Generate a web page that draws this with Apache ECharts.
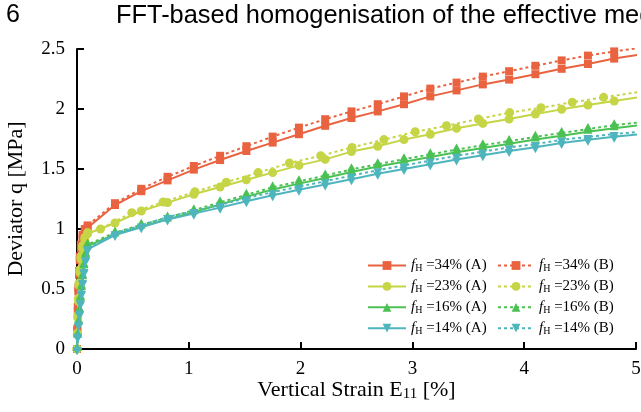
<!DOCTYPE html>
<html><head><meta charset="utf-8">
<script src="https://cdn.jsdelivr.net/npm/echarts@6/dist/echarts.min.js"></script>
<style>html,body{margin:0;padding:0;background:#fff}#c{width:641px;height:412px}</style>
</head><body><div id="c"></div>
<script>
// ---- data ----
const xTicks = [0, 1, 2, 3, 4, 5];
const yTicks = [0, 0.5, 1, 1.5, 2, 2.5];
const strainEarlyFast = [0, 0.003, 0.007, 0.012, 0.018, 0.025, 0.035, 0.05, 0.07, 0.095];
const strainEarlySlow = [0, 0.006, 0.014, 0.022, 0.031, 0.04, 0.05, 0.062, 0.077, 0.095];
const strainMain = [0.34, 0.575, 0.81, 1.045, 1.28, 1.515, 1.75, 1.985, 2.22, 2.455, 2.69, 2.925, 3.16, 3.395, 3.63, 3.865, 4.10, 4.335, 4.57, 4.805, 5.04];
const strainMain23B = [0.21, 0.49, 0.77, 1.055, 1.335, 1.62, 1.9, 2.18, 2.46, 2.745, 3.025, 3.305, 3.59, 3.87, 4.15, 4.43, 4.71, 5.05];

const q34A_early = [0, 0.15, 0.32, 0.48, 0.62, 0.74, 0.84, 0.92, 0.98, 1.01];
const q34B_early = [0, 0.17, 0.35, 0.51, 0.65, 0.77, 0.87, 0.95, 1.0, 1.03];
const q34A = [1.20, 1.315, 1.405, 1.495, 1.575, 1.65, 1.72, 1.79, 1.86, 1.925, 1.98, 2.04, 2.105, 2.155, 2.205, 2.245, 2.29, 2.335, 2.375, 2.42, 2.455];
const q34B = [1.215, 1.335, 1.435, 1.525, 1.61, 1.69, 1.77, 1.845, 1.915, 1.98, 2.04, 2.105, 2.17, 2.22, 2.27, 2.315, 2.36, 2.405, 2.445, 2.48, 2.51];

const q23A_early = [0, 0.12, 0.26, 0.40, 0.53, 0.64, 0.75, 0.84, 0.91, 0.96];
const q23B_early = [0, 0.13, 0.28, 0.42, 0.55, 0.66, 0.77, 0.86, 0.93, 0.97];
const q23A = [1.05, 1.15, 1.22, 1.29, 1.35, 1.41, 1.47, 1.53, 1.58, 1.645, 1.69, 1.745, 1.79, 1.84, 1.88, 1.917, 1.958, 1.997, 2.033, 2.067, 2.10];
const q23B = [1.0, 1.136, 1.225, 1.31, 1.39, 1.47, 1.55, 1.61, 1.68, 1.745, 1.81, 1.86, 1.917, 1.97, 2.01, 2.056, 2.097, 2.145];

const q16A_early = [0, 0.11, 0.22, 0.32, 0.42, 0.51, 0.60, 0.69, 0.78, 0.86];
const q16B_early = [0, 0.12, 0.23, 0.33, 0.43, 0.52, 0.61, 0.70, 0.79, 0.87];
const q16A = [0.955, 1.02, 1.08, 1.14, 1.205, 1.268, 1.33, 1.378, 1.425, 1.475, 1.52, 1.56, 1.60, 1.64, 1.675, 1.71, 1.745, 1.778, 1.81, 1.84, 1.865];
const q16B = [0.97, 1.035, 1.095, 1.157, 1.222, 1.285, 1.348, 1.397, 1.445, 1.497, 1.54, 1.582, 1.622, 1.662, 1.698, 1.733, 1.768, 1.80, 1.833, 1.865, 1.89];

const q14A_early = [0, 0.10, 0.20, 0.29, 0.38, 0.46, 0.55, 0.64, 0.74, 0.83];
const q14B_early = [0, 0.11, 0.21, 0.30, 0.39, 0.47, 0.56, 0.65, 0.75, 0.84];
const q14A = [0.95, 1.015, 1.08, 1.128, 1.178, 1.232, 1.282, 1.327, 1.37, 1.415, 1.46, 1.50, 1.54, 1.58, 1.615, 1.65, 1.682, 1.716, 1.743, 1.768, 1.79];
const q14B = [0.965, 1.03, 1.10, 1.15, 1.20, 1.257, 1.308, 1.353, 1.398, 1.445, 1.49, 1.53, 1.57, 1.61, 1.645, 1.68, 1.708, 1.744, 1.767, 1.792, 1.81];

const namesA = ['34% (A)', '23% (A)', '16% (A)', '14% (A)'];
const namesB = ['34% (B)', '23% (B)', '16% (B)', '14% (B)'];

// ---- chart ----
const SERIF = '"Liberation Serif", "Times New Roman", serif';
const SANS = '"Liberation Sans", Arial, sans-serif';
const C34 = '#EA6340', C23 = '#C5D545', C16 = '#4CC153', C14 = '#4EB5BD';
function zip(xs, ys) { return xs.map((x, i) => [x, ys[i]]); }

function mk(name, color, dotted, symbol, size, rotate, offset, xs, ys, z) {
  return {
    type: 'line', name: name, data: zip(xs, ys),
    symbol: symbol, symbolSize: size, symbolRotate: rotate, symbolOffset: offset,
    showSymbol: true, showAllSymbol: true, clip: true, z: z,
    lineStyle: { color: color, width: 2, type: dotted ? [3, 3] : 'solid' },
    itemStyle: { color: color },
    emphasis: { disabled: true }, animation: false
  };
}

const series = [
  mk(namesA[0], C34, false, 'rect', 8, 0, [0, 0], strainEarlyFast.concat(strainMain), q34A_early.concat(q34A), 2),
  mk(namesB[0], C34, true, 'rect', 8, 0, [0, 0], strainEarlyFast.concat(strainMain), q34B_early.concat(q34B), 2),
  mk(namesA[1], C23, false, 'circle', 9, 0, [0, 0], strainEarlyFast.concat(strainMain), q23A_early.concat(q23A), 3),
  mk(namesB[1], C23, true, 'circle', 9, 0, [0, 0], strainEarlyFast.concat(strainMain23B), q23B_early.concat(q23B), 3),
  mk(namesA[2], C16, false, 'triangle', [9, 8], 0, [0, -2], strainEarlySlow.concat(strainMain), q16A_early.concat(q16A), 4),
  mk(namesB[2], C16, true, 'triangle', [9, 8], 0, [0, -2], strainEarlySlow.concat(strainMain), q16B_early.concat(q16B), 4),
  mk(namesA[3], C14, false, 'triangle', [9, 8], 180, [0, 2], strainEarlySlow.concat(strainMain), q14A_early.concat(q14A), 5),
  mk(namesB[3], C14, true, 'triangle', [9, 8], 180, [0, 2], strainEarlySlow.concat(strainMain), q14B_early.concat(q14B), 5)
];

const legendText = {
  color: '#000', fontFamily: SERIF, fontSize: 15,
  rich: {
    f: { fontStyle: 'italic', fontFamily: SERIF, fontSize: 15, lineHeight: 16, color: '#000' },
    h: { fontFamily: SERIF, fontSize: 10, lineHeight: 10, verticalAlign: 'bottom', color: '#000' },
    t: { fontFamily: SERIF, fontSize: 15, lineHeight: 16, color: '#000' }
  }
};
const legendFmt = name => '{f|f}{h|H}{t| =' + name + '}';

const axisCommon = {
  axisLine: { show: true, onZero: false, lineStyle: { color: '#000', width: 2 } },
  axisTick: { show: true, inside: true, length: 7, lineStyle: { color: '#000', width: 2 } },
  splitLine: { show: false },
  nameLocation: 'middle', nameMoveOverlap: false
};

const option = {
  backgroundColor: '#fff',
  animation: false,
  grid: { left: 77, right: 5, top: 49, bottom: 63, containLabel: false, outerBoundsMode: 'none' },
  xAxis: Object.assign({}, axisCommon, {
    type: 'value', min: xTicks[0], max: xTicks[xTicks.length - 1], interval: 1,
    axisLabel: { color: '#000', fontFamily: SERIF, fontSize: 19, margin: 11 },
    name: '{n|Vertical Strain E}{s|11}{n| [%]}', nameGap: 29,
    nameTextStyle: {
      color: '#000', fontFamily: SERIF, fontSize: 22,
      rich: {
        n: { fontFamily: SERIF, fontSize: 22, lineHeight: 24, color: '#000' },
        s: { fontFamily: SERIF, fontSize: 15, lineHeight: 15, verticalAlign: 'bottom', color: '#000' }
      }
    }
  }),
  yAxis: Object.assign({}, axisCommon, {
    type: 'value', min: yTicks[0], max: yTicks[yTicks.length - 1], interval: 0.5,
    axisLabel: { color: '#000', fontFamily: SERIF, fontSize: 19, margin: 12 },
    name: 'Deviator q [MPa]', nameGap: 50,
    nameTextStyle: { color: '#000', fontFamily: SERIF, fontSize: 22 }
  }),
  legend: [
    { data: namesA, orient: 'vertical', left: 367, top: 258, itemWidth: 38, itemHeight: 11, itemGap: 5.4,
      padding: 0, textStyle: legendText, formatter: legendFmt, selectedMode: false },
    { data: namesB, orient: 'vertical', left: 497, top: 258, itemWidth: 36, itemHeight: 11, itemGap: 5.4,
      padding: 0, textStyle: legendText, formatter: legendFmt, selectedMode: false }
  ],
  graphic: [
    { type: 'text', left: 6, top: 3, style: { text: '6', font: '25px ' + SANS, fill: '#000' } },
    { type: 'text', left: 116, top: 3, style: { text: 'FFT-based homogenisation of the effective med', font: '25.4px ' + SANS, fill: '#000' } }
  ],
  series: series
};

const chart = echarts.init(document.getElementById('c'), null, { renderer: 'canvas' });
chart.setOption(option);
</script>
</body></html>
